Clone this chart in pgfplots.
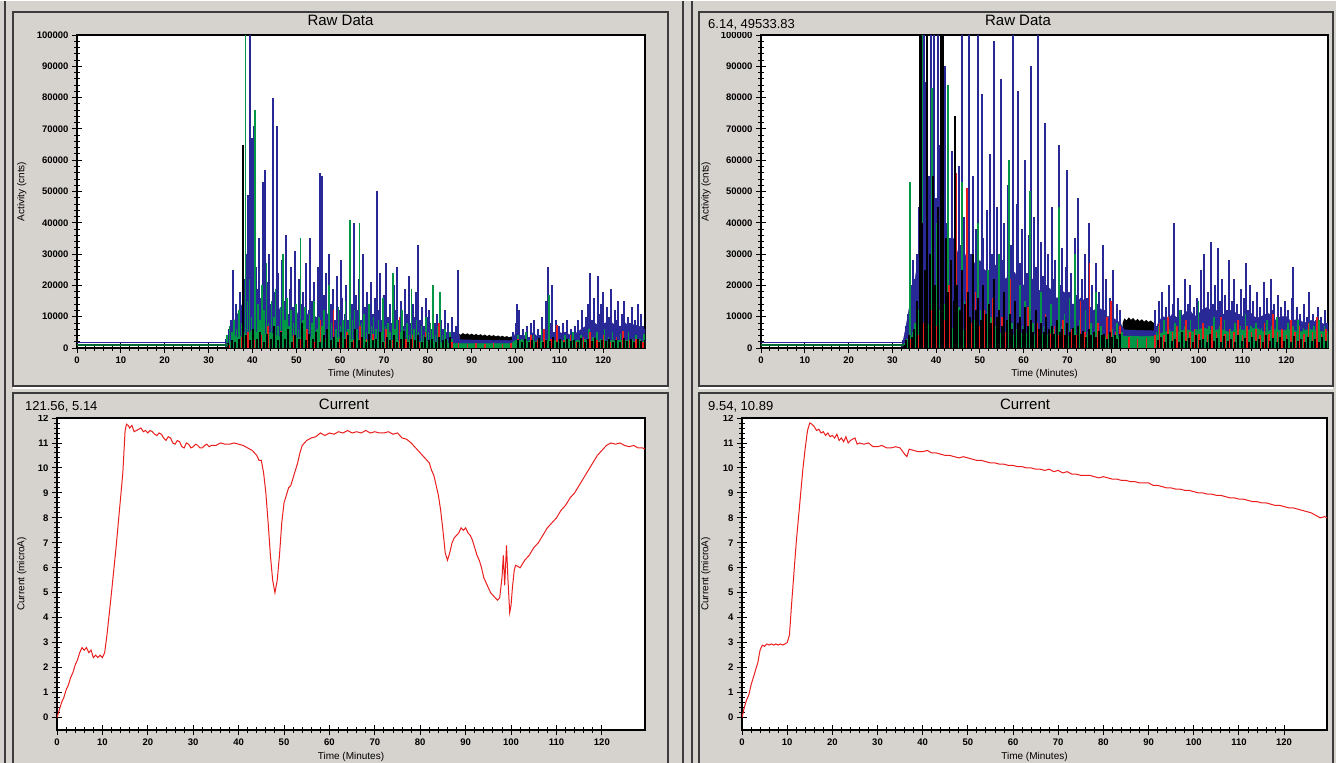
\documentclass[border=0pt]{standalone}
\usepackage{fontspec}
\setmainfont{Liberation Sans}
\usepackage{pgfplots}
\pgfplotsset{compat=1.18}
\definecolor{bgc}{RGB}{214,210,206}
\definecolor{frame}{RGB}{60,60,60}
\definecolor{cblue}{RGB}{40,40,150}
\definecolor{cgreen}{RGB}{0,150,70}
\definecolor{cred}{RGB}{235,30,30}
\pgfplotsset{
  panel/.style={scale only axis, xmin=0, xmax=129.5, xtick={0,10,...,120},
    minor x tick num=4, tick pos=left, tick align=center,
    major tick length=10pt, minor tick length=6pt,
    tick style={black, line width=0.9pt},
    axis line style={black, line width=1.3pt},
    axis background/.style={fill=white},
    tick label style={font=\fontsize{9.5}{10}\selectfont\bfseries},
    label style={font=\fontsize{10}{11}\selectfont},
    /pgf/number format/assume math mode=true, no markers},
  raw/.style={panel, ymin=0, ymax=100000, ytick={0,10000,...,100000},
    minor y tick num=4, scaled y ticks=false,
    /pgf/number format/fixed, /pgf/number format/1000 sep={},
    height=313pt, ylabel={Activity (cnts)}, xlabel={Time (Minutes)}},
  cur/.style={panel, ymin=-0.5, ymax=12, ytick={0,...,12}, minor y tick num=4,
    height=312pt, ylabel={Current (microA)}, xlabel={Time (Minutes)}},
  spike/.style={ycomb, line width=2pt},
}
\begin{document}
\begin{tikzpicture}
\useasboundingbox (0pt,0pt) rectangle (1336pt,763pt);
\clip (0pt,0pt) rectangle (1336pt,763pt);
\begin{scope}[x=1pt,y=1pt]
\fill[bgc] (0,0) rectangle (1336,763);
\draw[frame, line width=1.2pt] (5,-5) -- (5,770);
\draw[frame, line width=1.2pt] (683,-5) -- (683,770);
\draw[frame, line width=1.2pt] (692,-5) -- (692,770);
\draw[white, line width=1pt] (0,762) -- (1336,762);
\draw[white, line width=1.2pt] (13,375) -- (668,375) (699,375) -- (1333,375);
\draw[frame, line width=1.2pt] (13,377) rectangle (668,751);
\draw[frame, line width=1.2pt] (13,-5) rectangle (668,370);
\draw[frame, line width=1.2pt] (699,377) rectangle (1333,751);
\draw[frame, line width=1.2pt] (699,-5) rectangle (1333,370);
\end{scope}

% ---------------- top left: raw data
\begin{axis}[raw, at={(77pt,415pt)}, anchor=south west, width=568pt,
  every axis y label/.style={at={(axis description cs:-0.097,0.5)}, rotate=90, anchor=center},
  every axis x label/.style={at={(axis description cs:0.5,-0.083)}, anchor=center}]
\addplot[fill=black, draw=none] coordinates {(85.3,0)(85.5,3600)(86,4200)(86.5,3900)(87,4600)(87.5,4200)(88,4800)(88.5,4300)(89,4700)(89.5,4200)(90,4600)(90.5,4100)(91,4500)(91.5,4000)(92,4400)(92.5,3900)(93,4300)(93.5,3800)(94,4200)(94.5,3800)(95,4100)(95.5,3700)(96,4000)(96.5,3600)(97,3900)(97.5,3500)(98,3800)(98.5,3400)(99,3700)(99.4,3300)(99.6,0)} \closedcycle;
\addplot[fill=cblue, draw=cblue] coordinates {(34,0)(34.5,3000)(35,6000)(36,9000)(37,12000)(38,15000)(39,13000)(40,16000)(41,12000)(42,14000)(43,10000)(44,11000)(45,14000)(46,13000)(47,9000)(48,10000)(49,12000)(50,12000)(51,8000)(52,9000)(53,12000)(54,11000)(55,8000)(56,10000)(57,11000)(58,9000)(59,7500)(60,10000)(61,8000)(62,8000)(63,9500)(64,9000)(65,7000)(66,7000)(67,8500)(68,8000)(69,6500)(70,7000)(71,7500)(72,6000)(73,6500)(74,7000)(75,5500)(76,5500)(77,6500)(78,6000)(79,5000)(80,5000)(81,5500)(82,4500)(83,4000)(84,4000)(85,3500)(86,3000)(87,2800)(88,2600)(93,2500)(99,2400)(99.5,3000)(100,5000)(101,3500)(102,4000)(103,3000)(104,5000)(105,3500)(106,4000)(107,5500)(108,6000)(109,4000)(110,5000)(111,4500)(112,4500)(113,3500)(114,5000)(115,6000)(116,7000)(117,6500)(118,8000)(119,7000)(120,7500)(121,8500)(122,8000)(123,7000)(124,7000)(125,8000)(126,6500)(127,7500)(128,7000)(129.5,6000)} \closedcycle;
\addplot[spike, cblue] coordinates {(34.0,3000)(34.6,6000)(35.2,9000)(35.5,25000)(35.9,8000)(36.3,14000)(36.8,11000)(37.2,18000)(37.6,12000)(38.0,22000)(38.5,30000)(39.0,49000)(39.5,100000)(39.9,67000)(40.3,71000)(40.7,26000)(41.1,19000)(41.5,35000)(41.9,16000)(42.4,53000)(42.9,57000)(43.3,21000)(43.8,30000)(44.2,14000)(44.6,80000)(45.1,18000)(45.5,71000)(45.9,24000)(46.3,12000)(46.8,28000)(47.2,15000)(47.6,36000)(48.0,11000)(48.5,19000)(48.9,26000)(49.3,13000)(49.8,31000)(50.2,10000)(50.6,22000)(51.0,14000)(51.5,18000)(51.9,9000)(52.3,27000)(52.8,12000)(53.2,35000)(53.6,15000)(54.0,21000)(54.5,10000)(54.9,26000)(55.4,56000)(55.8,55000)(56.2,17000)(56.7,24000)(57.1,11000)(57.5,30000)(58.0,14000)(58.4,19000)(58.8,9000)(59.2,23000)(59.7,12000)(60.1,28000)(60.5,16000)(61.0,11000)(61.4,20000)(61.8,9000)(62.3,25000)(62.7,14000)(63.1,40000)(63.6,17000)(64.0,12000)(64.4,22000)(64.8,9000)(65.3,30000)(65.7,13000)(66.1,18000)(66.6,8000)(67.0,21000)(67.4,11000)(67.9,16000)(68.3,50000)(68.7,12000)(69.1,24000)(69.6,9000)(70.0,17000)(70.4,27000)(70.9,10000)(71.3,14000)(71.7,8000)(72.2,20000)(72.6,12000)(73.0,26000)(73.4,9000)(73.9,15000)(74.3,7000)(74.7,19000)(75.2,11000)(75.6,23000)(76.0,8000)(76.5,14000)(76.9,10000)(77.3,18000)(77.8,33000)(78.2,9000)(78.6,13000)(79.0,7000)(79.5,16000)(79.9,10000)(80.3,12000)(80.8,6000)(81.2,14000)(81.6,8000)(82.1,11000)(82.5,5000)(82.9,9000)(83.4,6000)(83.8,12000)(84.2,5000)(84.6,8000)(85.1,4000)(85.5,10000)(85.9,5000)(86.4,7000)(86.8,25000)(87.2,4000)(99.5,5000)(100.0,8000)(100.4,14000)(100.8,12000)(101.3,4000)(101.7,6000)(102.2,3000)(102.6,7000)(103.0,3500)(103.5,8000)(103.9,4000)(104.3,9000)(104.8,3000)(105.2,6000)(105.6,4000)(106.1,10000)(106.5,5000)(107.0,15000)(107.4,26000)(107.8,8000)(108.3,20000)(108.7,5000)(109.1,9000)(109.6,4000)(110.0,7000)(110.4,3000)(110.9,8000)(111.3,5000)(111.7,9000)(112.2,4000)(112.6,6000)(113.0,3000)(113.5,7000)(113.9,4000)(114.3,9000)(114.8,5000)(115.2,12000)(115.6,6000)(116.1,10000)(116.5,14000)(116.9,24000)(117.4,9000)(117.8,16000)(118.2,7000)(118.7,23000)(119.1,11000)(119.5,14000)(120.0,18000)(120.4,8000)(120.8,13000)(121.3,10000)(121.7,19000)(122.1,6000)(122.6,12000)(123.0,9000)(123.4,15000)(123.9,7000)(124.3,11000)(124.7,15000)(125.2,6000)(125.6,10000)(126.0,8000)(126.5,13000)(126.9,5000)(127.3,9000)(127.8,14000)(128.2,6000)(128.6,11000)(129.1,7000)};
\addplot[fill=cgreen, draw=cgreen] coordinates {(34.5,0)(35,2000)(36,4000)(37,3000)(38,5000)(39,4000)(40,6000)(42,4000)(44,5000)(46,3500)(48,4500)(50,3000)(52,4000)(54,3000)(56,3500)(58,2500)(60,3500)(62,2500)(64,3000)(66,2500)(68,3000)(70,2000)(72,2500)(74,2000)(76,2500)(78,2000)(80,2200)(82,1800)(84,1600)(86,1400)(99,1400)(100,2500)(104,2000)(108,2500)(112,2000)(116,2500)(120,2200)(124,2500)(128,2000)(129.5,2200)} \closedcycle;
\addplot[spike, cgreen, line width=1.6pt] coordinates {(34.2,4000)(34.8,7000)(35.3,5000)(35.8,9000)(36.4,6000)(37.0,12000)(37.5,8000)(38.4,100000)(38.9,15000)(39.3,22000)(39.8,10000)(40.6,76000)(41.2,14000)(41.7,9000)(42.2,20000)(42.7,12000)(43.2,27000)(43.7,8000)(44.3,15000)(44.9,10000)(45.3,19000)(45.8,7000)(46.4,13000)(46.9,30000)(47.4,9000)(47.9,16000)(48.4,7000)(48.8,12000)(49.4,8000)(49.9,14000)(50.5,6000)(51.0,35000)(51.5,9000)(52.0,13000)(52.5,6000)(53.0,11000)(53.6,8000)(54.1,15000)(54.7,6000)(55.2,10000)(55.8,7000)(56.3,12000)(56.9,5000)(57.4,20000)(58.0,8000)(58.5,11000)(59.0,6000)(59.6,13000)(60.1,7000)(60.7,9000)(61.2,15000)(61.8,6000)(62.3,41000)(62.8,9000)(63.3,12000)(63.9,6000)(64.4,40000)(64.9,8000)(65.5,11000)(66.0,5000)(66.6,14000)(67.1,7000)(67.6,10000)(68.2,6000)(68.7,9000)(69.3,5000)(69.8,16000)(70.3,7000)(70.9,8000)(71.4,5000)(72.0,24000)(72.5,6000)(73.0,9000)(73.6,5000)(74.1,12000)(74.7,6000)(75.2,8000)(75.8,4000)(76.3,19000)(76.8,6000)(77.4,9000)(77.9,5000)(78.5,7000)(79.0,4000)(79.6,10000)(80.1,5000)(80.6,8000)(81.2,20000)(81.7,4000)(82.3,7000)(82.8,18000)(83.3,4000)(83.9,6000)(84.4,3000)(85.0,5000)(85.5,3000)(100.5,4000)(101.4,3000)(102.3,5000)(103.2,2500)(104.1,4000)(105.0,3000)(105.9,6000)(106.8,3000)(107.6,17000)(108.6,3000)(109.5,5000)(110.4,2500)(111.3,4000)(112.2,3000)(113.1,5000)(114.0,2500)(114.9,4000)(115.8,3000)(116.7,6000)(117.6,3500)(118.5,5000)(119.4,3000)(120.3,6000)(121.2,3500)(122.1,5000)(123.0,3000)(123.9,4500)(124.8,3000)(125.7,5000)(126.6,3000)(127.5,4000)(128.4,3000)(129.3,4500)};
\addplot[spike, cred, line width=1.6pt] coordinates {(34.8,1000)(36.0,2000)(37.5,3500)(39.0,5000)(40.5,2500)(42.0,4000)(43.5,7000)(45.0,3000)(46.5,5500)(48.0,2500)(49.5,4000)(51.0,3000)(52.5,6000)(54.0,2000)(55.5,9000)(57.0,3500)(58.5,12000)(60.0,3000)(61.5,5000)(63.0,2500)(64.5,7000)(66.0,3000)(67.5,4500)(69.0,2000)(70.5,6000)(72.0,2500)(73.5,10000)(75.0,3000)(76.5,4000)(78.0,2000)(79.5,5000)(81.0,2500)(82.5,8000)(84.0,3000)(85.5,2000)(87.0,1500)(89,1200)(91,1500)(93,1200)(95,1500)(97,1300)(99,1500)(100.5,3000)(102,2000)(103.5,4000)(105,2500)(106.5,6000)(108,3000)(109.5,7500)(111,2500)(112.5,4000)(114,2000)(115.5,3500)(117,5000)(118.5,2500)(120,4000)(121.5,2000)(123,3500)(124.5,5500)(126,2500)(127.5,3000)(129,2000)};
\addplot[spike, black] coordinates {(34.5,1500)(35.3,2500)(36.1,1800)(36.9,3000)(37.9,65000)(38.6,4000)(39.4,2500)(40.2,6000)(41.0,3000)(41.8,5000)(42.6,2000)(43.4,4500)(44.2,3000)(45.0,7000)(45.8,2500)(46.6,5000)(47.4,3000)(48.2,6000)(49.0,2000)(49.8,4000)(50.6,3000)(51.4,8000)(52.2,2500)(53.0,4500)(53.8,3000)(54.6,5000)(55.4,2000)(56.2,4000)(57.0,6000)(57.8,2500)(58.6,3500)(59.4,2000)(60.2,5000)(61.0,3000)(61.8,4000)(62.6,2000)(63.4,6000)(64.2,2500)(65.0,3500)(65.8,2000)(66.6,4500)(67.4,2500)(68.2,3000)(69.0,5000)(69.8,2000)(70.6,3500)(71.4,2500)(72.2,4000)(73.0,2000)(73.8,3000)(74.6,5500)(75.4,2000)(76.2,3000)(77.0,2500)(77.8,4000)(78.6,2000)(79.4,3500)(80.2,2500)(81.0,3000)(81.8,2000)(82.6,3500)(83.4,2500)(84.2,3000)(85.0,3500)(100.6,2500)(101.4,2000)(102.2,3000)(103.0,1800)(103.8,2600)(104.6,2000)(105.4,3200)(106.2,1900)(107.0,2700)(107.8,2100)(108.6,3500)(109.4,2000)(110.2,2800)(111.0,1800)(111.8,3000)(112.6,2200)(113.4,2600)(114.2,1900)(115.0,3100)(115.8,2000)(116.6,2900)(117.4,2100)(118.2,3300)(119.0,1900)(119.8,2700)(120.6,2200)(121.4,3000)(122.2,1800)(123.0,2600)(123.8,2000)(124.6,3200)(125.4,2100)(126.2,2800)(127.0,1900)(127.8,3000)(128.6,2200)(129.4,2600)};
\addplot[cblue, line width=1pt] coordinates {(0,1700)(34.2,1700)};
\addplot[cgreen!70!black, line width=2pt] coordinates {(0,800)(34.5,800)};
\addplot[black, line width=1.2pt] coordinates {(0,200)(34.5,200)};
\end{axis}

% ---------------- top right: raw data
\begin{axis}[raw, at={(761pt,415pt)}, anchor=south west, width=567pt,
  every axis y label/.style={at={(axis description cs:-0.097,0.5)}, rotate=90, anchor=center},
  every axis x label/.style={at={(axis description cs:0.5,-0.083)}, anchor=center}]
\addplot[fill=black, draw=none] coordinates {(82.4,0)(82.6,8000)(83,9500)(83.5,8800)(84,9800)(84.5,9000)(85,9600)(85.5,8700)(86,9300)(86.5,8600)(87,9200)(87.5,8400)(88,9000)(88.5,8300)(89,8800)(89.5,8200)(90,7800)(90.2,0)} \closedcycle;
\addplot[fill=cblue, draw=cblue] coordinates {(32,0)(32.5,2500)(33,6000)(34,14000)(35,20000)(36,30000)(37,35000)(38,40000)(39,38000)(40,42000)(41,36000)(42,40000)(43,32000)(44,35000)(45,30000)(46,33000)(47,28000)(48,30000)(49,26000)(50,28000)(51,25000)(52,24000)(53,27000)(54,26000)(55,23000)(56,22000)(57,25000)(58,24000)(59,21000)(60,20000)(61,23000)(62,22000)(63,19000)(64,18000)(65,20000)(66,19000)(67,16000)(68,16000)(69,18000)(70,17000)(71,14000)(72,14000)(73,16000)(74,15000)(75,12000)(76,12000)(77,13000)(78,12000)(79,10000)(80,10000)(81,9000)(82,8000)(83,5800)(90,5500)(91,9000)(92,10000)(93,9000)(94,11000)(95,9500)(96,10000)(97,11500)(98,12000)(99,10000)(100,11000)(101,12500)(102,13000)(103,11500)(104,12000)(105,10500)(106,11000)(107,12000)(108,12000)(109,10000)(110,10000)(111,11500)(112,11000)(113,9500)(114,10000)(115,10500)(116,11000)(117,9000)(118,9000)(119,10000)(120,10000)(121,8500)(122,9000)(123,9000)(124,8000)(125,8500)(126,9000)(127,7500)(128,8000)(129.5,7000)} \closedcycle;
\addplot[spike, cblue] coordinates {(32.4,2500)(32.8,4000)(33.2,7000)(33.6,11000)(34.0,15000)(34.4,20000)(34.8,28000)(35.2,22000)(35.6,30000)(36.0,45000)(36.4,100000)(36.8,60000)(37.2,100000)(37.6,85000)(38.0,100000)(38.4,55000)(38.8,100000)(39.2,70000)(39.6,100000)(40.0,48000)(40.4,100000)(40.8,65000)(41.2,100000)(41.6,52000)(42.0,90000)(42.4,40000)(42.8,79000)(43.2,35000)(43.6,63000)(44.0,30000)(44.4,67000)(44.8,28000)(45.2,58000)(45.6,33000)(46.0,100000)(46.4,42000)(46.8,25000)(47.2,48000)(47.6,100000)(48.0,30000)(48.4,55000)(48.8,22000)(49.2,38000)(49.6,100000)(50.0,27000)(50.4,81000)(50.8,35000)(51.2,20000)(51.6,44000)(52.0,24000)(52.4,62000)(52.8,30000)(53.2,98000)(53.6,26000)(54.0,45000)(54.4,18000)(54.8,86000)(55.2,28000)(55.6,40000)(56.0,20000)(56.4,52000)(56.8,25000)(57.2,33000)(57.6,100000)(58.0,22000)(58.4,46000)(58.8,82000)(59.2,27000)(59.6,38000)(60.0,19000)(60.4,60000)(60.8,24000)(61.2,36000)(61.6,90000)(62.0,21000)(62.4,42000)(62.8,26000)(63.2,100000)(63.6,18000)(64.0,34000)(64.4,23000)(64.8,72000)(65.2,20000)(65.6,30000)(66.0,16000)(66.4,45000)(66.8,22000)(67.2,28000)(67.6,15000)(68.0,65000)(68.4,20000)(68.8,32000)(69.2,14000)(69.6,26000)(70.0,57000)(70.4,18000)(70.8,24000)(71.2,13000)(71.6,35000)(72.0,17000)(72.4,48000)(72.8,15000)(73.2,22000)(73.6,12000)(74.0,30000)(74.4,16000)(74.8,40000)(75.2,13000)(75.6,20000)(76.0,11000)(76.4,27000)(76.8,14000)(77.2,18000)(77.6,10000)(78.0,33000)(78.4,12000)(78.8,22000)(79.2,9000)(79.6,16000)(80.0,11000)(80.4,25000)(80.8,8000)(81.2,14000)(81.6,7000)(82.0,12000)(82.4,5000)(90.0,12000)(90.4,7000)(90.8,15000)(91.2,9000)(91.6,18000)(92.0,8000)(92.4,13000)(92.8,6000)(93.2,20000)(93.6,9000)(94.0,14000)(94.4,40000)(94.8,10000)(95.2,16000)(95.6,7000)(96.0,12000)(96.4,9000)(96.8,22000)(97.2,8000)(97.6,14000)(98.0,20000)(98.4,10000)(98.8,13000)(99.2,7000)(99.6,16000)(100.0,11000)(100.4,25000)(100.8,9000)(101.2,30000)(101.6,12000)(102.0,18000)(102.4,8000)(102.8,34000)(103.2,14000)(103.6,20000)(104.0,10000)(104.4,32000)(104.8,15000)(105.2,22000)(105.6,9000)(106.0,17000)(106.4,12000)(106.8,28000)(107.2,10000)(107.6,15000)(108.0,22000)(108.4,8000)(108.8,14000)(109.2,11000)(109.6,19000)(110.0,9000)(110.4,16000)(110.8,27000)(111.2,12000)(111.6,20000)(112.0,8000)(112.4,15000)(112.8,10000)(113.2,18000)(113.6,7000)(114.0,13000)(114.4,9000)(114.8,21000)(115.2,11000)(115.6,16000)(116.0,8000)(116.4,22000)(116.8,12000)(117.2,14000)(117.6,7000)(118.0,17000)(118.4,10000)(118.8,13000)(119.2,8000)(119.6,15000)(120.0,9000)(120.4,12000)(120.8,7000)(121.2,16000)(121.6,26000)(122.0,9000)(122.4,13000)(122.8,6000)(123.2,11000)(123.6,8000)(124.0,14000)(124.4,6000)(124.8,10000)(125.2,18000)(125.6,7000)(126.0,11000)(126.4,6000)(126.8,9000)(127.2,13000)(127.6,7000)(128.0,10000)(128.4,6000)(128.8,12000)(129.2,8000)};
\addplot[fill=cgreen, draw=cgreen] coordinates {(32.6,0)(33,1500)(34,3000)(35,5000)(36,7000)(37,6000)(38,8000)(39,6500)(40,7500)(41,6000)(42,7000)(43,5500)(44,6500)(45,5000)(46,6000)(47,5000)(48,5500)(50,4500)(52,5500)(54,4500)(56,5000)(58,4000)(60,5000)(62,4200)(64,4800)(66,4000)(68,4500)(70,3800)(72,4300)(74,3800)(76,4200)(78,3600)(80,4000)(82,3600)(83,3800)(90,3700)(91,4500)(93,5500)(95,5000)(97,6000)(99,5000)(101,6500)(103,5500)(105,6000)(107,5000)(109,6000)(111,5500)(113,6500)(115,5000)(117,6000)(119,5500)(121,6000)(123,5000)(125,6000)(127,5500)(129.5,5000)} \closedcycle;
\addplot[spike, cgreen, line width=1.6pt] coordinates {(32.8,1500)(33.4,3000)(34.0,53000)(34.6,5000)(35.2,8000)(35.8,12000)(36.4,20000)(36.9,100000)(37.4,15000)(38.0,30000)(38.6,10000)(39.0,83000)(39.6,18000)(40.2,40000)(40.8,12000)(41.4,25000)(42.0,14000)(42.7,84000)(43.4,20000)(44.0,11000)(44.6,35000)(45.2,13000)(45.9,53000)(46.5,15000)(47.1,28000)(47.7,10000)(48.3,22000)(48.9,9000)(49.5,40000)(50.1,12000)(50.7,18000)(51.3,8000)(51.9,25000)(52.5,10000)(53.1,15000)(53.7,7000)(54.3,30000)(54.9,9000)(55.5,14000)(56.1,7000)(56.7,60000)(57.3,8000)(57.9,12000)(58.5,6000)(59.1,20000)(59.7,7000)(60.3,15000)(60.9,6000)(61.5,50000)(62.1,8000)(62.7,12000)(63.3,6000)(63.9,18000)(64.5,7000)(65.1,10000)(65.7,5000)(66.3,14000)(66.9,6000)(67.5,9000)(68.1,45000)(68.7,7000)(69.3,11000)(69.9,5000)(70.5,16000)(71.1,6000)(71.7,30000)(72.3,5000)(72.9,9000)(73.5,4500)(74.1,12000)(74.7,5000)(75.3,8000)(75.9,4000)(76.5,18000)(77.1,5000)(77.7,7000)(78.3,4000)(78.9,10000)(79.5,4500)(80.1,6000)(80.7,3500)(81.3,8000)(81.9,3500)(82.5,5000)(90.3,5000)(90.9,7000)(91.5,4000)(92.1,9000)(92.7,5000)(93.3,6000)(93.9,4000)(94.5,8000)(95.1,5000)(95.7,12000)(96.3,4500)(96.9,7000)(97.5,5000)(98.1,9000)(98.7,4000)(99.3,6000)(99.9,15000)(100.5,5000)(101.1,8000)(101.7,4500)(102.3,7000)(102.9,5000)(103.5,10000)(104.1,4000)(104.7,7000)(105.3,5500)(105.9,9000)(106.5,4500)(107.1,6000)(107.7,4000)(108.3,8000)(108.9,5000)(109.5,7000)(110.1,4500)(110.7,11000)(111.3,5000)(111.9,7000)(112.5,4000)(113.1,8000)(113.7,5000)(114.3,6500)(114.9,4000)(115.5,9000)(116.1,5000)(116.7,7000)(117.3,4500)(117.9,10000)(118.5,5000)(119.1,6000)(119.7,4000)(120.3,8000)(120.9,5000)(121.5,7000)(122.1,4500)(122.7,9000)(123.3,5000)(123.9,6500)(124.5,4000)(125.1,8000)(125.7,5000)(126.3,7000)(126.9,4500)(127.5,9000)(128.1,5000)(128.7,7000)(129.3,5500)};
\addplot[spike, cred, line width=1.6pt] coordinates {(33.0,1500)(34.0,3000)(35.0,5000)(36.0,4000)(37.0,8000)(38.0,6000)(39.0,12000)(40.0,7000)(41.0,15000)(42.0,9000)(43.0,20000)(44.5,56000)(45.5,10000)(46.5,14000)(47.0,51000)(48.0,8000)(49.0,18000)(50.0,7000)(51.0,12000)(52.0,6000)(53.0,16000)(54.0,5500)(55.0,10000)(56.0,5000)(57.0,22000)(58.0,6000)(59.0,9000)(60.0,5000)(61.0,13000)(62.0,4500)(63.0,8000)(64.0,4000)(65.0,11000)(66.0,4500)(67.0,7000)(68.0,4000)(69.0,9000)(70.0,5000)(71.0,6000)(72.0,4000)(73.0,15000)(74.0,5000)(75.0,27000)(76.0,4500)(77.0,8000)(78.0,4000)(79.0,10000)(80.0,15000)(81.0,5000)(82.0,7000)(84.0,3500)(86.0,3000)(88.0,3200)(90.0,4000)(91.0,8000)(92.0,4000)(93.0,10000)(94.0,5000)(95.0,7000)(96.0,4000)(97.0,9000)(98.0,5000)(99.0,6000)(100.0,4500)(101.0,8000)(102.0,4000)(103.0,7000)(104.0,5000)(105.0,10000)(106.0,4500)(107.0,6000)(108.0,5000)(109.0,9000)(110.0,4000)(111.0,7000)(112.0,5000)(113.0,6000)(114.0,4000)(115.0,8000)(116.0,4500)(117.0,11000)(118.0,5000)(119.0,6000)(120.0,4000)(121.0,9000)(122.0,5000)(123.0,7000)(124.0,4500)(125.0,8000)(126.0,5000)(127.0,10000)(128.0,4500)(129.0,6000)};
\addplot[spike, black] coordinates {(32.6,1000)(33.2,2500)(33.8,4000)(34.4,3500)(35.0,6000)(35.6,15000)(36.2,100000)(36.5,100000)(36.8,40000)(37.4,25000)(38.0,100000)(38.6,30000)(39.2,55000)(39.8,20000)(40.4,45000)(41.0,100000)(41.3,100000)(41.6,100000)(42.2,35000)(42.8,18000)(43.4,28000)(44.0,15000)(44.3,74000)(44.8,20000)(45.4,12000)(46.0,25000)(46.6,14000)(47.2,18000)(47.8,10000)(48.4,30000)(49.0,12000)(49.6,16000)(50.2,9000)(50.8,20000)(51.4,11000)(52.0,14000)(52.6,8000)(53.2,22000)(53.8,10000)(54.4,12000)(55.0,7000)(55.6,18000)(56.2,9000)(56.8,11000)(57.4,6000)(58.0,15000)(58.6,8000)(59.2,10000)(59.8,6000)(60.4,13000)(61.0,7000)(61.6,9000)(62.2,5000)(62.8,12000)(63.4,6000)(64.0,8000)(64.6,5000)(65.2,10000)(65.8,6000)(66.4,7000)(67.0,4500)(67.6,9000)(68.2,5000)(68.8,6000)(69.4,4000)(70.0,8000)(70.6,5000)(71.2,6500)(71.8,4000)(72.4,7000)(73.0,4500)(73.6,5500)(74.2,3500)(74.8,6000)(75.4,4000)(76.0,5000)(76.6,3500)(77.2,5500)(77.8,4000)(78.4,4500)(79.0,3000)(79.6,5000)(80.2,3500)(80.8,4000)(81.4,3000)(82.0,4500)(90.6,2500)(91.4,3500)(92.2,2000)(93.0,4500)(93.8,2200)(94.6,3000)(95.4,2000)(96.2,5000)(97.0,2300)(97.8,3200)(98.6,2000)(99.4,4000)(100.2,2400)(101.0,3000)(101.8,2000)(102.6,4500)(103.4,2200)(104.2,3300)(105.0,2000)(105.8,3800)(106.6,2300)(107.4,3000)(108.2,2000)(109.0,4200)(109.8,2200)(110.6,3100)(111.4,2000)(112.2,3600)(113.0,2300)(113.8,3000)(114.6,2000)(115.4,4000)(116.2,2200)(117.0,3200)(117.8,2000)(118.6,3500)(119.4,2300)(120.2,3000)(121.0,2000)(121.8,3800)(122.6,2200)(123.4,3000)(124.2,2000)(125.0,3500)(125.8,2300)(126.6,3000)(127.4,2000)(128.2,3400)(129.0,2200)};
\addplot[cblue, line width=1pt] coordinates {(0,1700)(32.4,1700)};
\addplot[cgreen!70!black, line width=2pt] coordinates {(0,800)(32.6,800)};
\addplot[black, line width=1.2pt] coordinates {(0,200)(32.6,200)};
\end{axis}

% ---------------- bottom left: current
\begin{axis}[cur, at={(57pt,33pt)}, anchor=south west, width=588pt,
  every axis y label/.style={at={(axis description cs:-0.06,0.5)}, rotate=90, anchor=center},
  every axis x label/.style={at={(axis description cs:0.5,-0.087)}, anchor=center}]
\addplot[cred, line width=1pt] coordinates {(0,0)(0.5,0.3)(1,0.6)(1.5,0.8)(2,1.1)(2.5,1.3)(3,1.6)(3.5,1.8)(4,2.1)(4.5,2.3)(5,2.6)(5.5,2.8)(6,2.7)(6.5,2.8)(7,2.6)(7.5,2.7)(8,2.4)(8.5,2.5)(9,2.4)(9.5,2.5)(10,2.4)(10.5,2.6)(11,3.3)(12,5.0)(13,6.8)(14,8.8)(14.5,9.8)(15,11.5)(15.3,11.75)(15.7,11.7)(16,11.6)(16.5,11.7)(17,11.45)(17.5,11.5)(18,11.55)(18.5,11.6)(19,11.45)(19.5,11.5)(20,11.4)(20.5,11.5)(21,11.45)(21.5,11.35)(22,11.3)(22.5,11.4)(23,11.35)(23.5,11.2)(24,11.1)(24.5,11.25)(25,11.2)(25.5,11.0)(26,10.95)(26.5,11.1)(27,11.05)(27.5,10.85)(28,10.8)(28.5,11.0)(29,10.95)(29.5,10.8)(30,10.85)(30.5,10.95)(31,10.9)(31.5,10.8)(32,10.8)(32.5,10.9)(33,10.95)(33.5,10.85)(34,10.9)(35,10.9)(36,11.0)(37,10.95)(38,10.95)(39,11.0)(40,10.95)(41,10.9)(42,10.8)(43,10.7)(44,10.5)(44.5,10.3)(45,10.3)(45.5,9.8)(46,9.0)(46.5,7.8)(47,6.5)(47.5,5.5)(48,5.0)(48.5,5.5)(49,6.5)(49.5,7.8)(50,8.6)(50.5,8.9)(51,9.2)(51.5,9.3)(52,9.6)(52.5,9.9)(53,10.2)(53.5,10.6)(54,10.9)(55,11.1)(56,11.2)(57,11.25)(58,11.4)(59,11.3)(60,11.4)(61,11.35)(62,11.45)(63,11.4)(64,11.5)(65,11.4)(66,11.45)(67,11.4)(68,11.5)(69,11.4)(70,11.45)(71,11.4)(72,11.4)(73,11.45)(74,11.35)(75,11.4)(76,11.2)(77,11.15)(78,11.0)(79,10.8)(80,10.6)(81,10.4)(82,10.2)(82.5,9.9)(83,9.7)(83.5,9.3)(84,8.9)(84.5,8.3)(85,7.5)(85.5,6.6)(86,6.3)(86.5,6.6)(87,7.0)(87.5,7.2)(88,7.3)(88.5,7.4)(89,7.6)(89.5,7.5)(90,7.6)(90.5,7.4)(91,7.3)(91.5,7.1)(92,6.8)(92.5,6.5)(93,6.3)(93.5,6.0)(94,5.6)(94.5,5.4)(95,5.2)(95.5,5.0)(96,4.9)(96.5,4.8)(97,4.7)(97.5,4.8)(98,5.6)(98.3,6.5)(98.6,5.3)(99,6.9)(99.3,5.6)(99.7,4.2)(100,4.5)(100.3,5.2)(100.7,5.9)(101,6.1)(102,6.0)(103,6.3)(104,6.5)(105,6.8)(106,7.0)(107,7.3)(108,7.6)(109,7.8)(110,8.0)(111,8.3)(112,8.5)(113,8.8)(114,9.0)(115,9.3)(116,9.6)(117,9.9)(118,10.2)(119,10.5)(120,10.7)(121,10.9)(122,11.0)(123,10.95)(124,11.0)(125,10.9)(126,10.85)(127,10.9)(128,10.8)(129,10.8)(129.5,10.75)};
\end{axis}

% ---------------- bottom right: current
\begin{axis}[cur, at={(742pt,33pt)}, anchor=south west, width=585pt,
  every axis y label/.style={at={(axis description cs:-0.062,0.5)}, rotate=90, anchor=center},
  every axis x label/.style={at={(axis description cs:0.5,-0.087)}, anchor=center}]
\addplot[cred, line width=1pt] coordinates {(0,0)(0.5,0.4)(1,0.7)(1.5,0.9)(2,1.3)(2.5,1.6)(3,1.9)(3.5,2.2)(4,2.7)(4.5,2.9)(5,2.85)(5.5,2.95)(6,2.9)(6.5,2.95)(7,2.9)(7.5,2.95)(8,2.9)(8.5,2.95)(9,2.9)(9.5,2.95)(10,3.0)(10.5,3.3)(11,4.6)(11.5,5.8)(12,7.0)(12.5,8.0)(13,9.0)(13.5,10.0)(14,10.8)(14.5,11.5)(15,11.8)(15.5,11.75)(16,11.65)(16.5,11.5)(17,11.55)(17.5,11.4)(18,11.45)(18.5,11.3)(19,11.4)(19.5,11.25)(20,11.3)(20.5,11.2)(21,11.35)(21.5,11.1)(22,11.2)(22.5,11.05)(23,11.25)(23.5,11.0)(24,11.1)(24.5,11.15)(25,11.2)(25.5,10.95)(26,11.0)(27,10.95)(28,11.0)(29,10.85)(30,10.85)(31,10.9)(32,10.8)(33,10.8)(34,10.85)(35,10.8)(36,10.55)(36.5,10.45)(37,10.75)(38,10.7)(39,10.65)(40,10.65)(41,10.7)(42,10.6)(43,10.6)(44,10.55)(45,10.5)(46,10.5)(47,10.45)(48,10.4)(49,10.45)(50,10.4)(51,10.35)(52,10.3)(53,10.3)(54,10.25)(55,10.2)(56,10.2)(57,10.15)(58,10.15)(59,10.1)(60,10.1)(61,10.05)(62,10.05)(63,10.0)(64,10.0)(65,9.95)(66,9.95)(67,9.9)(68,9.95)(69,9.85)(70,9.9)(71,9.8)(72,9.85)(73,9.75)(74,9.75)(75,9.7)(76,9.7)(77,9.7)(78,9.65)(79,9.6)(80,9.65)(81,9.6)(82,9.55)(83,9.55)(84,9.5)(85,9.5)(86,9.45)(87,9.45)(88,9.4)(89,9.4)(90,9.4)(91,9.3)(92,9.3)(93,9.25)(94,9.2)(95,9.2)(96,9.15)(97,9.15)(98,9.1)(99,9.1)(100,9.05)(101,9.0)(102,9.0)(103,8.95)(104,8.95)(105,8.9)(106,8.9)(107,8.85)(108,8.8)(109,8.8)(110,8.75)(111,8.75)(112,8.7)(113,8.65)(114,8.65)(115,8.6)(116,8.6)(117,8.55)(118,8.5)(119,8.5)(120,8.45)(121,8.4)(122,8.4)(123,8.35)(124,8.3)(125,8.25)(126,8.2)(127,8.1)(128,8.0)(129,8.05)(129.5,8.0)};
\end{axis}

% covers and panel texts
\begin{scope}[x=1pt,y=1pt]
\fill[bgc] (700,731) rectangle (757,749);
\fill[bgc] (15,348) rectangle (52,368);
\fill[bgc] (700,348) rectangle (737,368);
\node[font=\fontsize{15}{15}\selectfont] at (340.5,743) {Raw Data};
\node[font=\fontsize{15}{15}\selectfont] at (1018,743) {Raw Data};
\node[font=\fontsize{15}{15}\selectfont] at (344,359) {Current};
\node[font=\fontsize{15}{15}\selectfont] at (1025,359) {Current};
\node[anchor=west, inner sep=0pt, font=\fontsize{13}{13}\selectfont] at (708,738) {6.14, 49533.83};
\node[anchor=west, inner sep=0pt, font=\fontsize{13}{13}\selectfont] at (25,356) {121.56, 5.14};
\node[anchor=west, inner sep=0pt, font=\fontsize{13}{13}\selectfont] at (708,356) {9.54, 10.89};
\end{scope}
\end{tikzpicture}
\end{document}
